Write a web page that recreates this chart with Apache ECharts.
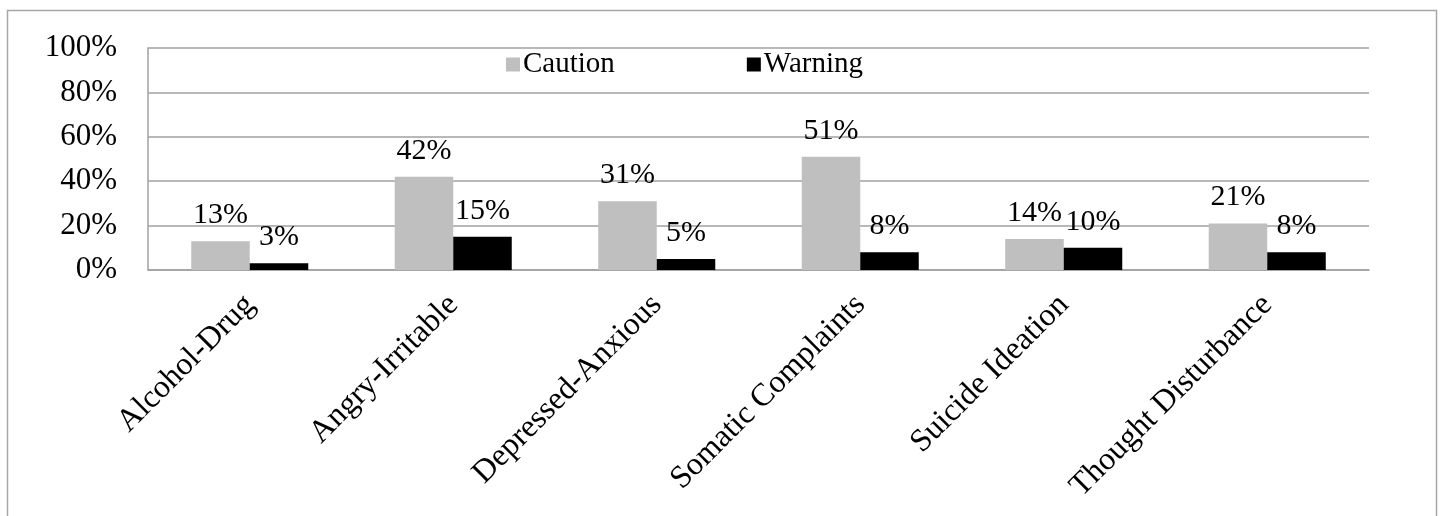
<!DOCTYPE html>
<html>
<head>
<meta charset="utf-8">
<script src="https://cdn.jsdelivr.net/npm/echarts@6/dist/echarts.min.js"></script>
<style>
  html, body { margin: 0; padding: 0; background: #fff; }
  #chart { width: 1440px; height: 516px; }
</style>
</head>
<body>
<div id="chart"></div>
<script>
var categories = ['Alcohol-Drug', 'Angry-Irritable', 'Depressed-Anxious', 'Somatic Complaints', 'Suicide Ideation', 'Thought Disturbance'];
var caution = [13, 42, 31, 51, 14, 21];
var warning = [3, 15, 5, 8, 10, 8];
var yTicks = [0, 20, 40, 60, 80, 100];

var font = 'Liberation Serif, Times New Roman, serif';
var myChart = echarts.init(document.getElementById('chart'));

function barLabel() {
  return {
    show: true,
    position: 'top',
    distance: 11,
    formatter: '{c}%',
    color: '#000',
    fontFamily: font,
    fontSize: 30
  };
}

var option = {
  backgroundColor: '#fff',
  animation: false,
  graphic: [{
    type: 'rect',
    silent: true,
    shape: { x: 7.5, y: 10.5, width: 1429, height: 530 },
    style: { fill: 'none', stroke: '#a6a6a6', lineWidth: 1.5 }
  }],
  legend: {
    left: 501,
    top: 45,
    itemGap: 132,
    itemWidth: 14,
    itemHeight: 14,
    icon: 'rect',
    textStyle: { fontFamily: font, fontSize: 29, color: '#000', padding: [0, 0, 0, -2] },
    data: ['Caution', 'Warning']
  },
  grid: { left: 148, right: 71, top: 48, bottom: 246 },
  xAxis: {
    type: 'category',
    data: categories,
    axisLine: { lineStyle: { color: '#a0a0a0', width: 1.5 } },
    axisTick: { show: false },
    axisLabel: {
      rotate: 45,
      margin: 30,
      interval: 0,
      color: '#000',
      fontFamily: font,
      fontSize: 32
    }
  },
  yAxis: {
    type: 'value',
    min: yTicks[0],
    max: yTicks[yTicks.length - 1],
    interval: yTicks[1] - yTicks[0],
    axisLine: { show: true, lineStyle: { color: '#a0a0a0', width: 1.5 } },
    axisTick: { show: false },
    splitLine: { lineStyle: { color: '#a0a0a0', width: 1.5 } },
    axisLabel: {
      margin: 31,
      formatter: '{value}%',
      color: '#000',
      fontFamily: font,
      fontSize: 31
    }
  },
  series: [{
    name: 'Caution',
    type: 'bar',
    data: caution,
    barGap: '0%',
    barCategoryGap: '42.5%',
    itemStyle: { color: '#bfbfbf' },
    label: barLabel()
  }, {
    name: 'Warning',
    type: 'bar',
    data: warning,
    itemStyle: { color: '#000' },
    label: barLabel()
  }]
};

myChart.setOption(option);
</script>
</body>
</html>
